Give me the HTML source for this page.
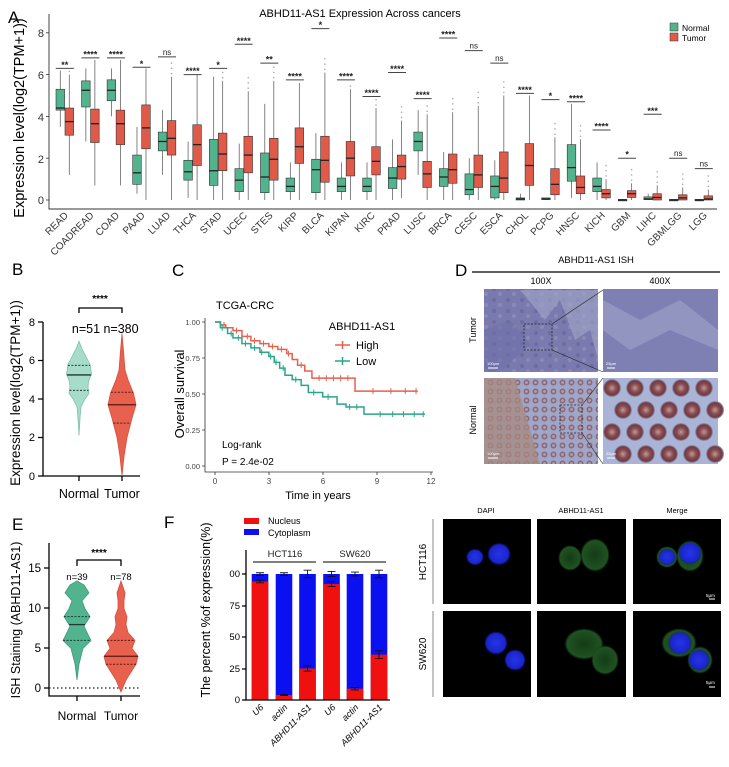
<!DOCTYPE html>
<html><head><meta charset="utf-8"><style>
html,body{margin:0;padding:0;background:#fff}
svg{display:block;font-family:"Liberation Sans",Arial,sans-serif}
</style></head><body>
<svg id="s" width="729" height="767" viewBox="0 0 729 767" xmlns="http://www.w3.org/2000/svg">
<defs>
<radialGradient id="gb" cx="50%" cy="50%" r="50%"><stop offset="0" stop-color="#2434e8"/><stop offset="0.8" stop-color="#1a24c8"/><stop offset="1" stop-color="#0a10a0" stop-opacity="0"/></radialGradient>
<radialGradient id="gg" cx="50%" cy="50%" r="50%"><stop offset="0" stop-color="#143c16"/><stop offset="0.85" stop-color="#1f5222"/><stop offset="1" stop-color="#0a2a0a" stop-opacity="0"/></radialGradient>
<radialGradient id="crypt" cx="50%" cy="50%" r="50%"><stop offset="0" stop-color="#c49a96"/><stop offset="0.45" stop-color="#8a4e50"/><stop offset="0.8" stop-color="#6e3a44"/><stop offset="1" stop-color="#9aa0c4"/></radialGradient>
<pattern id="tum" width="14" height="11" patternUnits="userSpaceOnUse"><rect width="14" height="11" fill="#7a7aae"/><circle cx="4" cy="3" r="2" fill="#6c6ca0"/><circle cx="10" cy="8" r="2" fill="#8a8ab8"/></pattern>
<pattern id="nrm" width="9" height="9" patternUnits="userSpaceOnUse"><rect width="9" height="9" fill="#a0a6c8"/><circle cx="4.5" cy="4.5" r="3" fill="#8a6a78"/><circle cx="4.5" cy="4.5" r="1.4" fill="#b0a0b0"/></pattern>
</defs>
<g id="A"></g>
<text x="8" y="23" font-size="17">A</text>
<text x="360" y="17" font-size="11" text-anchor="middle">ABHD11-AS1 Expression Across cancers</text>
<g font-size="11" fill="#333" text-anchor="end">
<text x="44" y="37">8</text><text x="44" y="79">6</text><text x="44" y="121">4</text><text x="44" y="163">2</text><text x="44" y="204">0</text>
</g>
<text transform="translate(24,118) rotate(-90)" font-size="14.5" text-anchor="middle">Expression level(log2(TPM+1))</text>
<rect x="670" y="23" width="8" height="8" fill="#52b48f" stroke="#333" stroke-width="0.5"/><text x="682" y="31" font-size="8.5">Normal</text>
<rect x="670" y="33" width="8" height="8" fill="#e05a4a" stroke="#333" stroke-width="0.5"/><text x="682" y="41" font-size="8.5">Tumor</text>
<g font-size="10" fill="#333" text-anchor="end">
<text transform="translate(68.8,216) rotate(-45)">READ</text>
<text transform="translate(94.4,216) rotate(-45)">COADREAD</text>
<text transform="translate(119.9,216) rotate(-45)">COAD</text>
<text transform="translate(145.5,216) rotate(-45)">PAAD</text>
<text transform="translate(171,216) rotate(-45)">LUAD</text>
<text transform="translate(196.6,216) rotate(-45)">THCA</text>
<text transform="translate(222.2,216) rotate(-45)">STAD</text>
<text transform="translate(247.7,216) rotate(-45)">UCEC</text>
<text transform="translate(273.3,216) rotate(-45)">STES</text>
<text transform="translate(298.8,216) rotate(-45)">KIRP</text>
<text transform="translate(324.4,216) rotate(-45)">BLCA</text>
<text transform="translate(350,216) rotate(-45)">KIPAN</text>
<text transform="translate(375.5,216) rotate(-45)">KIRC</text>
<text transform="translate(401.1,216) rotate(-45)">PRAD</text>
<text transform="translate(426.6,216) rotate(-45)">LUSC</text>
<text transform="translate(452.2,216) rotate(-45)">BRCA</text>
<text transform="translate(477.8,216) rotate(-45)">CESC</text>
<text transform="translate(503.3,216) rotate(-45)">ESCA</text>
<text transform="translate(528.9,216) rotate(-45)">CHOL</text>
<text transform="translate(554.4,216) rotate(-45)">PCPG</text>
<text transform="translate(580,216) rotate(-45)">HNSC</text>
<text transform="translate(605.6,216) rotate(-45)">KICH</text>
<text transform="translate(631.1,216) rotate(-45)">GBM</text>
<text transform="translate(656.7,216) rotate(-45)">LIHC</text>
<text transform="translate(682.2,216) rotate(-45)">GBMLGG</text>
<text transform="translate(707.8,216) rotate(-45)">LGG</text>
</g>
<g id="sig" font-size="9" text-anchor="middle" font-weight="bold"></g>

<!-- Panel B -->
<text x="12" y="275" font-size="17">B</text>
<text transform="translate(20,393) rotate(-90)" font-size="13.5" text-anchor="middle">Expression level(log2(TPM+1))</text>
<g stroke="#000" stroke-width="1.3" fill="none">
<path d="M43,322V476H140"/><path d="M38,322H43M38,360.5H43M38,399H43M38,437.5H43M38,476H43M79,476V481M122,476V481"/>
<path d="M79,313V308H122V313"/>
</g>
<g font-size="11" text-anchor="end"><text x="35" y="326">8</text><text x="35" y="364">6</text><text x="35" y="403">4</text><text x="35" y="441">2</text><text x="35" y="480">0</text></g>
<text x="100" y="302" font-size="10" text-anchor="middle" font-weight="bold">****</text>
<text x="86" y="333" font-size="12.5" text-anchor="middle">n=51</text>
<text x="121" y="333" font-size="12.5" text-anchor="middle">n=380</text>
<text x="79" y="498" font-size="12.5" text-anchor="middle">Normal</text>
<text x="122" y="498" font-size="12.5" text-anchor="middle">Tumor</text>
<g id="vB"></g>

<!-- Panel C -->
<text x="172" y="276" font-size="17">C</text>
<text x="245" y="309" font-size="11" text-anchor="middle">TCGA-CRC</text>
<text transform="translate(184,394) rotate(-90)" font-size="13" text-anchor="middle">Overall survival</text>
<g stroke="#333" stroke-width="0.8" fill="none"><path d="M205,318V472H433"/><path d="M202,322H205M202,358H205M202,394H205M202,430H205M202,466H205M215,472V475M269,472V475M323,472V475M377,472V475M431,472V475"/></g>
<g font-size="7.5" fill="#444" text-anchor="end"><text x="200" y="325">1.00</text><text x="200" y="361">0.75</text><text x="200" y="397">0.50</text><text x="200" y="433">0.25</text><text x="200" y="469">0.00</text></g>
<g font-size="8" fill="#444" text-anchor="middle"><text x="215" y="484">0</text><text x="269" y="484">3</text><text x="323" y="484">6</text><text x="377" y="484">9</text><text x="431" y="484">12</text></g>
<text x="318" y="499" font-size="11" text-anchor="middle">Time in years</text>
<text x="362" y="330" font-size="11" text-anchor="middle">ABHD11-AS1</text>
<path d="M335,345H350M342.5,341V349" stroke="#e8604e" stroke-width="1.5"/><text x="356" y="349" font-size="11">High</text>
<path d="M335,361H350M342.5,357V365" stroke="#2aa58a" stroke-width="1.5"/><text x="356" y="365" font-size="11">Low</text>
<text x="222" y="448" font-size="10">Log-rank</text>
<text x="222" y="465" font-size="10">P = 2.4e-02</text>
<g id="km"></g>

<!-- Panel D -->
<text x="455" y="276" font-size="17">D</text>
<text x="596" y="263" font-size="9.5" text-anchor="middle">ABHD11-AS1 ISH</text>
<line x1="472" y1="272" x2="720" y2="272" stroke="#000" stroke-width="1.2"/>
<text x="541" y="284" font-size="9" text-anchor="middle">100X</text>
<text x="660" y="284" font-size="9" text-anchor="middle">400X</text>
<text transform="translate(476,330) rotate(-90)" font-size="9" text-anchor="middle">Tumor</text>
<text transform="translate(476,420) rotate(-90)" font-size="9" text-anchor="middle">Normal</text>
<rect x="484" y="289" width="114" height="83" fill="url(#tum)"/>
<path d="M520,290 L545,320 L560,300 L575,340 L590,330 L598,360 L598,290Z" fill="#a2a6c8" opacity="0.6"/>
<path d="M484,330 L510,320 L530,345 L500,372 L484,372Z" fill="#6e70a8" opacity="0.6"/>
<rect x="603" y="289" width="115" height="83" fill="#7e80b4"/>
<path d="M603,300 L640,320 L680,300 L718,330 L718,350 L670,330 L630,350 L603,330Z" fill="#a0a4c8" opacity="0.6"/>
<rect x="524" y="324" width="28" height="26" fill="none" stroke="#222" stroke-dasharray="2,1.5" stroke-width="0.8"/>
<path d="M552,324L603,290M552,350L603,372" stroke="#222" stroke-width="0.6"/>
<rect x="484" y="378" width="114" height="86" fill="url(#nrm)"/>
<path d="M484,378 L515,378 L540,464 L484,464Z" fill="#a88a80" opacity="0.75"/>
<rect x="603" y="378" width="115" height="86" fill="#aab4d6"/>
<g id="crypts"></g>
<rect x="560" y="405" width="22" height="28" fill="none" stroke="#222" stroke-dasharray="2,1.5" stroke-width="0.8"/>
<path d="M582,405L603,378M582,433L603,464" stroke="#222" stroke-width="0.6"/>
<g stroke="#fff" stroke-width="1"><path d="M488,368H498M488,458H498M607,368H615M607,458H615"/></g>
<g font-size="4" fill="#fff"><text x="487" y="365">100μm</text><text x="487" y="455">100μm</text><text x="606" y="365">25μm</text><text x="606" y="455">25μm</text></g>

<!-- Panel E -->
<text x="12" y="530" font-size="17">E</text>
<text transform="translate(20,620) rotate(-90)" font-size="12.5" text-anchor="middle">ISH Staining (ABHD11-AS1)</text>
<g stroke="#000" stroke-width="1.3" fill="none">
<path d="M49,543V696H140"/><path d="M44,568H49M44,608H49M44,648H49M44,688H49M77,696V701M121,696V701"/>
<path d="M77,566V560H121V566"/>
</g>
<line x1="49" y1="688" x2="140" y2="688" stroke="#222" stroke-dasharray="1.5,2.5" stroke-width="1.2"/>
<g font-size="11.5" text-anchor="end"><text x="41" y="572">15</text><text x="41" y="612">10</text><text x="41" y="652">5</text><text x="41" y="692">0</text></g>
<text x="99" y="556" font-size="10" text-anchor="middle" font-weight="bold">****</text>
<text x="77" y="580" font-size="9.5" text-anchor="middle">n=39</text>
<text x="121" y="580" font-size="9.5" text-anchor="middle">n=78</text>
<text x="77" y="720" font-size="12" text-anchor="middle">Normal</text>
<text x="121" y="720" font-size="12" text-anchor="middle">Tumor</text>
<g id="vE"></g>

<!-- Panel F -->
<text x="164" y="528" font-size="17">F</text>
<rect x="244" y="518" width="15" height="6" fill="#f01010"/><text x="268" y="524" font-size="9">Nucleus</text>
<rect x="244" y="529" width="15" height="6" fill="#0a10f0"/><text x="268" y="536" font-size="9">Cytoplasm</text>
<text transform="translate(210,610) rotate(-90)" font-size="12.5" text-anchor="middle">The percent %of expression(%)</text>
<g font-size="9.5" fill="#222" text-anchor="middle"><text x="285" y="557">HCT116</text><text x="355" y="557">SW620</text></g>
<path d="M253,562H316M323,562H386" stroke="#000" stroke-width="1"/>
<g id="bars"></g>
<g stroke="#000" stroke-width="1.3" fill="none"><path d="M246,550V700H390"/><path d="M242,574H246M242,606H246M242,637H246M242,669H246M242,700H246"/></g>
<g font-size="9.5" text-anchor="end"><text x="240" y="577">00</text><text x="240" y="609">75</text><text x="240" y="640">50</text><text x="240" y="672">25</text><text x="240" y="703">0</text></g>
<g font-size="9" text-anchor="end" font-style="italic">
<text transform="translate(264,708) rotate(-45)">U6</text>
<text transform="translate(288,708) rotate(-45)">actin</text>
<text transform="translate(312,708) rotate(-45)">ABHD11-AS1</text>
<text transform="translate(336,708) rotate(-45)">U6</text>
<text transform="translate(359,708) rotate(-45)">actin</text>
<text transform="translate(383,708) rotate(-45)">ABHD11-AS1</text>
</g>

<!-- Panel G -->
<text x="452" y="531" font-size="17">G</text>
<g font-size="7.5" text-anchor="middle"><text x="486" y="513">DAPI</text><text x="581" y="513">ABHD11-AS1</text><text x="677" y="513">Merge</text></g>
<path d="M433,519V604M433,611V697" stroke="#888" stroke-width="1"/>
<text transform="translate(426,562) rotate(-90)" font-size="10" text-anchor="middle">HCT116</text>
<text transform="translate(426,654) rotate(-90)" font-size="10" text-anchor="middle">SW620</text>
<rect x="443" y="519" width="88" height="85" fill="#000"/>
<rect x="537" y="519" width="89" height="85" fill="#000"/>
<rect x="633" y="519" width="88" height="85" fill="#000"/>
<rect x="443" y="611" width="88" height="86" fill="#000"/>
<rect x="537" y="611" width="89" height="86" fill="#000"/>
<rect x="633" y="611" width="88" height="86" fill="#000"/>
<ellipse cx="475" cy="557" rx="9" ry="8.5" fill="url(#gb)"/><ellipse cx="499" cy="554" rx="12" ry="11.5" fill="url(#gb)"/>
<ellipse cx="570" cy="558" rx="12" ry="13" fill="url(#gg)"/><ellipse cx="595" cy="555" rx="15" ry="17" fill="url(#gg)"/>
<ellipse cx="667" cy="557" rx="11" ry="11" fill="url(#gg)"/><ellipse cx="690" cy="556" rx="14" ry="16" fill="url(#gg)"/>
<ellipse cx="667" cy="557" rx="9" ry="8.5" fill="url(#gb)"/><ellipse cx="690" cy="553" rx="12" ry="11.5" fill="url(#gb)"/>
<ellipse cx="496" cy="643" rx="12" ry="12" fill="url(#gb)"/><ellipse cx="515" cy="660" rx="11" ry="11" fill="url(#gb)"/>
<ellipse cx="584" cy="644" rx="20" ry="16" fill="url(#gg)"/><ellipse cx="605" cy="660" rx="14" ry="15" fill="url(#gg)"/>
<ellipse cx="679" cy="643" rx="18" ry="15" fill="url(#gg)"/><ellipse cx="700" cy="660" rx="13" ry="14" fill="url(#gg)"/>
<ellipse cx="680" cy="643" rx="12" ry="12" fill="url(#gb)"/><ellipse cx="699" cy="660" rx="11" ry="11" fill="url(#gb)"/>
<g font-size="4.5" fill="#fff"><text x="706" y="597">5μm</text><text x="706" y="684">5μm</text></g>
<path d="M709,599H715M709,687H715" stroke="#fff" stroke-width="1"/>
</svg>
<script>
(function(){
var NS="http://www.w3.org/2000/svg";
function el(p,t,a){var e=document.createElementNS(NS,t);for(var k in a)e.setAttribute(k,a[k]);p.appendChild(e);return e;}
var A=document.getElementById('A');
el(A,'path',{d:"M49,14V209H717",stroke:"#333","stroke-width":"0.9",fill:"none"});
[0,2,4,6,8].forEach(function(v){var y=200-v*20.9;el(A,'path',{d:"M46,"+y+"H49",stroke:"#333","stroke-width":"0.8"});});
var D=[
[[4.3,4.4,5.3,3.5,6.2],[3.1,3.75,4.4,1.2,6.0],"**",6.3],
[[4.45,5.25,5.7,2.8,6.3],[2.75,3.65,4.35,0.7,6.7],"****",6.8],
[[4.75,5.25,5.75,4.0,6.3],[2.65,3.65,4.3,0.7,6.7],"****",6.8],
[[0.75,1.3,2.15,0.3,3.5],[2.45,3.45,4.55,0,6.3],"*",6.35],
[[2.35,2.8,3.25,1.2,4.3],[2.15,2.95,3.8,0,5.9],"ns",6.85],
[[0.95,1.35,1.9,0.1,2.8],[1.65,2.65,3.6,0,6.0],"****",6.0],
[[0.7,1.4,2.9,0,5.9],[1.4,2.2,3.2,0,5.7],"*",6.3],
[[0.4,0.95,1.5,0,2.7],[1.3,2.15,3.05,0,5.2],"****",7.45],
[[0.35,1.1,2.25,0,4.6],[0.95,1.95,2.95,0,5.7],"**",6.55],
[[0.4,0.65,1.05,0,1.8],[1.75,2.55,3.45,0,5.6],"****",5.75],
[[0.35,1.45,1.95,0,3.2],[0.85,1.9,3.05,0,6.1],"*",8.2],
[[0.4,0.65,1.05,0,1.8],[1.15,2.0,2.8,0,5.3],"****",5.75],
[[0.4,0.65,1.05,0,1.8],[1.2,1.85,2.55,0,4.4],"****",4.95],
[[0.55,1.05,1.55,0,2.9],[1.0,1.6,2.15,0.1,3.8],"****",6.1],
[[2.35,2.8,3.25,1.2,4.3],[0.6,1.25,1.85,0,4.1],"****",4.85],
[[0.65,1.1,1.5,0,2.3],[0.8,1.45,2.2,0,4.2],"****",7.75],
[[0.25,0.5,1.25,0,2.0],[0.6,1.2,2.15,0,4.5],"ns",7.15],
[[0.1,0.65,1.15,0,1.9],[0.35,1.05,2.3,0,5.0],"ns",6.55],
[[0,0.05,0.1,0,0.3],[0.7,1.65,2.7,0,5.0],"****",5.1],
[[0.02,0.05,0.1,0,0.1],[0.25,0.75,1.5,0,3.0],"*",4.8],
[[0.9,1.55,2.65,0.1,4.6],[0.3,0.6,1.15,0,2.9],"****",4.7],
[[0.4,0.65,1.05,0,1.8],[0.1,0.3,0.5,0,1.0],"****",3.35],
[[0,0,0.03,0,0],[0.12,0.3,0.45,0,0.8],"*",2.0],
[[0.02,0.05,0.15,0,0.3],[0,0.12,0.3,0,0.7],"***",4.1],
[[0,0,0.03,0,0],[0,0.1,0.25,0,0.6],"ns",2.0],
[[0,0,0.03,0,0],[0,0.05,0.2,0,0.5],"ns",1.5]];
function Y(v){return 200-v*20.9;}
var S=document.getElementById('sig');
D.forEach(function(d,i){
 var c=64.8+25.56*i;
 [[d[0],c-4.5,"#52b48f"],[d[1],c+4.5,"#e05a4a"]].forEach(function(b){
  var q=b[0],x=b[1];
  el(A,'line',{x1:x,x2:x,y1:Y(q[3]),y2:Y(q[4]),stroke:"#666","stroke-width":"0.8"});
  var h=Math.max(Y(q[0])-Y(q[2]),1.5);
  el(A,'rect',{x:x-4.3,y:Y(q[2]),width:8.6,height:h,fill:b[2],stroke:"#333","stroke-width":"0.6"});
  el(A,'line',{x1:x-4.3,x2:x+4.3,y1:Y(q[1]),y2:Y(q[1]),stroke:"#222","stroke-width":"1.3"});
 });
 for(var k=0;k<3;k++){var v=d[1][4]+0.15+k*0.25; if(v<d[3]-0.1) el(A,'circle',{cx:c+4.5,cy:Y(v),r:0.8,fill:"#aaa"});}
 var yb=Y(d[3]);
 el(A,'line',{x1:c-9,x2:c+9,y1:yb,y2:yb,stroke:"#444","stroke-width":"1"});
 var t=el(S,'text',{x:c,y:yb-(d[2]=="ns"?2:0.5),"font-weight":d[2]=="ns"?"normal":"bold","font-size":d[2]=="ns"?"8":"9",fill:"#222"});t.textContent=d[2];
});
function violin(g,cx,y0,sc,pts,fill,stroke){
 var r="",l="";
 pts.forEach(function(p,i){r+=(i?"L":"M")+(cx+p[1])+","+(y0-p[0]*sc);});
 for(var i=pts.length-1;i>=0;i--){l+="L"+(cx-pts[i][1])+","+(y0-pts[i][0]*sc);}
 el(g,'path',{d:r+l+"Z",fill:fill,stroke:stroke,"stroke-width":"0.8"});
}
function hw(pts,v){for(var i=1;i<pts.length;i++){if(v<=pts[i][0]){var a=pts[i-1],b=pts[i];return a[1]+(b[1]-a[1])*(v-a[0])/(b[0]-a[0]);}}return 0;}
function qlines(g,cx,y0,sc,pts,vals,col){
 vals.forEach(function(q,i){var w=hw(pts,q[0]),y=y0-q[0]*sc;el(g,'line',{x1:cx-w,x2:cx+w,y1:y,y2:y,stroke:col,"stroke-width":q[1]?"1.3":"1","stroke-dasharray":q[1]?"":"2,1.5"});});
}
var vB=document.getElementById('vB');
var bn=[[2.1,0],[3,1],[3.6,2],[4.0,6],[4.3,10],[4.6,9],[4.9,9.5],[5.3,12.5],[5.8,11],[6.2,7],[6.6,3],[7.0,0]];
var bt=[[0,0],[1,2],[2,5],[3,10],[3.7,14],[4.3,11.5],[5,6],[5.5,3],[6.5,1.5],[7.4,0]];
violin(vB,79,476,19.25,bn,"#a6dcc9","#7cc4aa");
violin(vB,122,476,19.25,bt,"#e8604e","#d9503f");
qlines(vB,79,476,19.25,bn,[[4.45,0],[5.25,1],[5.75,0]],"#1f3a30");
qlines(vB,122,476,19.25,bt,[[2.75,0],[3.7,1],[4.35,0]],"#5a1a12");
var vE=document.getElementById('vE');
var en=[[1,0],[3,2],[5,6],[6,14],[7,10],[7.8,7],[9,13],[10,8],[11,5],[12,12],[13,7],[13.5,0]];
var et=[[-0.5,0],[1,5],[2,10],[3,15],[4,17],[5,11],[6,14],[7,7],[8,5],[9,6],[10,3],[11,3],[12,4],[13.5,0]];
violin(vE,77,688,7.93,en,"#52b48f","#3f9c7a");
violin(vE,121,688,7.93,et,"#e8604e","#d9503f");
qlines(vE,77,688,7.93,en,[[6,0],[8,1],[9,0]],"#1f3a30");
qlines(vE,121,688,7.93,et,[[3,0],[4,1],[6,0]],"#5a1a12");
var km=document.getElementById('km');
function X(t){return 215+t*17.95;} function KY(s){return 466-s*144;}
function curve(pts,col,cens){
 var d="M"+X(0)+","+KY(1);
 for(var i=1;i<pts.length;i++){d+="H"+X(pts[i][0])+"V"+KY(pts[i][1]);}
 el(km,'path',{d:d,fill:"none",stroke:col,"stroke-width":"1.5"});
 cens.forEach(function(t){var s=1;for(var i=0;i<pts.length;i++){if(pts[i][0]<=t)s=pts[i][1];}el(km,'line',{x1:X(t),x2:X(t),y1:KY(s)-3,y2:KY(s)+3,stroke:col,"stroke-width":"1"});});
}
var hi=[[0,1],[0.3,0.98],[0.6,0.96],[1,0.94],[1.5,0.9],[2,0.87],[2.5,0.85],[3,0.83],[3.5,0.81],[4,0.78],[4.3,0.74],[4.6,0.7],[5,0.66],[5.4,0.61],[7.8,0.52],[11.3,0.52]];
var lo=[[0,1],[0.3,0.96],[0.7,0.92],[1,0.89],[1.5,0.85],[2,0.82],[2.5,0.79],[3,0.76],[3.3,0.72],[3.6,0.68],[3.9,0.63],[4.3,0.6],[4.8,0.56],[5.2,0.51],[6,0.48],[6.8,0.43],[7.3,0.41],[8.3,0.36],[11.7,0.36]];
curve(hi,"#e8604e",[0.5,1.2,1.8,2.2,2.7,3.2,3.7,4.1,4.8,5.8,6.2,6.6,7,7.4,8.8,9.8,10.6,11.2]);
curve(lo,"#2aa58a",[0.4,0.9,1.3,1.7,2.2,2.6,3.1,3.4,3.8,4.5,5.5,6.3,7.5,7.9,9.2,9.9,10.5,11.1,11.6]);
var cr=document.getElementById('crypts');
for(var r=0;r<4;r++)for(var c=0;c<5;c++){var cx=612+c*23+(r%2)*11,cy=388+r*22;if(cx<716)el(cr,'circle',{cx:cx,cy:cy,r:9,fill:"url(#crypt)"});}
var B=document.getElementById('bars');
var xs=[260,284,307.5,331.5,355,379],nuc=[94,4,25,92,9,36],err=[[1,1],[0.5,1],[2,3],[2,2],[1,1.5],[3,3]];
function FY(v){return 700-v*1.26;}
xs.forEach(function(x,i){
 el(B,'rect',{x:x-8.3,y:FY(100),width:16.6,height:FY(0)-FY(100),fill:"#0a10f0"});
 el(B,'rect',{x:x-8.3,y:FY(nuc[i]),width:16.6,height:FY(0)-FY(nuc[i]),fill:"#f01010"});
 [[nuc[i],err[i][0]],[100,err[i][1]]].forEach(function(e){
  el(B,'path',{d:"M"+x+","+FY(e[0]-e[1])+"V"+FY(e[0]+e[1])+"M"+(x-4)+","+FY(e[0]-e[1])+"H"+(x+4)+"M"+(x-4)+","+FY(e[0]+e[1])+"H"+(x+4),stroke:"#111","stroke-width":"0.9",fill:"none"});
 });
});
})();
</script>
</body></html>
